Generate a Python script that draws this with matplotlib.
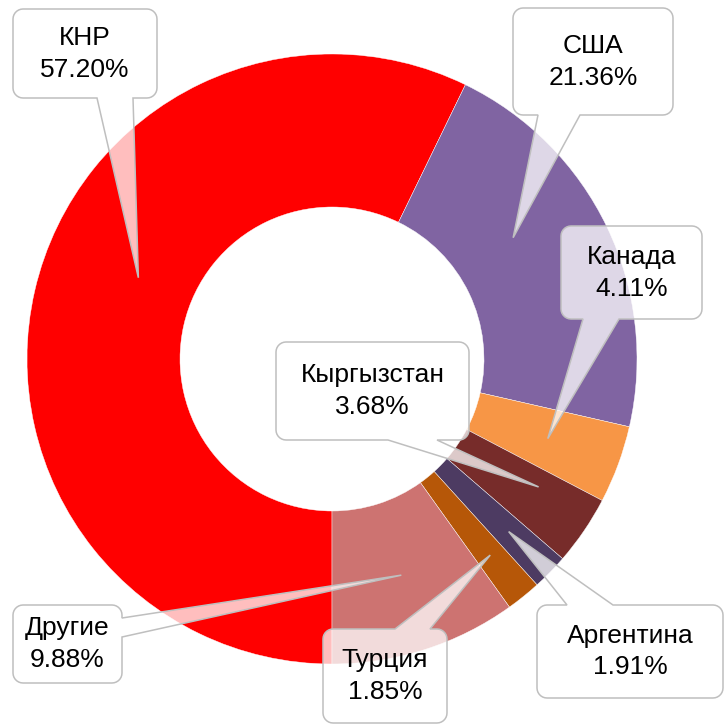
import matplotlib
matplotlib.use('Agg')
import matplotlib.pyplot as plt
import numpy as np
from matplotlib.patches import Polygon

plt.rcParams['font.family'] = ['Liberation Sans', 'DejaVu Sans']

# data
countries = ['КНР', 'США', 'Канада', 'Кыргызстан', 'Аргентина', 'Турция', 'Другие']
shares = [57.20, 21.36, 4.11, 3.68, 1.91, 1.85, 9.88]
colors = ['#FF0000', '#8064A2', '#F79646', '#772C2A', '#4D3B62', '#B65708', '#CD7371']

# callout layout in pixel coords (y down): box, edge with the pointer, base span
boxes = [(13, 9, 157, 98), (513, 8, 673, 115), (561, 226, 702, 319),
         (276, 342, 469, 440), (537, 605, 723, 698), (323, 629, 447, 723),
         (13, 605, 122, 683)]
edges = ['bottom', 'bottom', 'bottom', 'bottom', 'top', 'top', 'right']
bases = [(97, 133), (538, 580), (583, 619), (388, 437), (567, 613), (395, 430), (618, 637)]
tip_shift = [9.8, -8.2, 0, -2.5, 0, 0, 0]
tip_r = [210, 218, 230, 243, 247, 252, 227]

cx, cy = 332, 359
R_out, ring = 305, 153


def arc(xc, yc, r, a0, a1, n=8):
    t = np.radians(np.linspace(a0, a1, n))
    return list(zip(xc + r * np.cos(t), yc + r * np.sin(t)))


def callout(box, edge, base, tip, r=10):
    x0, y0, x1, y1 = box
    pts = [(x0 + r, y0)]
    if edge == 'top':
        pts += [(base[0], y0), tip, (base[1], y0)]
    pts += arc(x1 - r, y0 + r, r, -90, 0)
    if edge == 'right':
        pts += [(x1, base[0]), tip, (x1, base[1])]
    pts += arc(x1 - r, y1 - r, r, 0, 90)
    if edge == 'bottom':
        pts += [(base[1], y1), tip, (base[0], y1)]
    pts += arc(x0 + r, y1 - r, r, 90, 180)
    pts += arc(x0 + r, y0 + r, r, 180, 270)
    return pts


fig = plt.figure(figsize=(7.25, 7.25), dpi=100)
ax = fig.add_axes([0, 0, 1, 1])

# y axis runs downwards, so counterclock=True draws clockwise on screen
wedges, _ = ax.pie(shares, colors=colors, center=(cx, cy), radius=R_out,
                   startangle=90, counterclock=True,
                   wedgeprops=dict(width=ring, edgecolor='white', linewidth=0.3))

ax.set_xlim(0, 725)
ax.set_ylim(725, 0)
ax.set_aspect('equal')
ax.axis('off')

for i, w in enumerate(wedges):
    theta = np.radians((w.theta1 + w.theta2) / 2 + tip_shift[i])
    tip = (cx + tip_r[i] * np.cos(theta), cy + tip_r[i] * np.sin(theta))
    outline = callout(boxes[i], edges[i], bases[i], tip)
    ax.add_patch(Polygon(outline, closed=True, facecolor='white', alpha=0.75,
                         edgecolor='none', zorder=3))
    ax.add_patch(Polygon(outline, closed=True, facecolor='none',
                         edgecolor='#BFBFBF', linewidth=1.1, zorder=4))
    x0, y0, x1, y1 = boxes[i]
    xm, ym = (x0 + x1) / 2, (y0 + y1) / 2
    ax.text(xm, ym - 16, countries[i], ha='center', va='center', fontsize=19, zorder=5)
    ax.text(xm, ym + 16, '%.2f%%' % shares[i], ha='center', va='center', fontsize=19, zorder=5)

fig.savefig('out.png', dpi=100)
